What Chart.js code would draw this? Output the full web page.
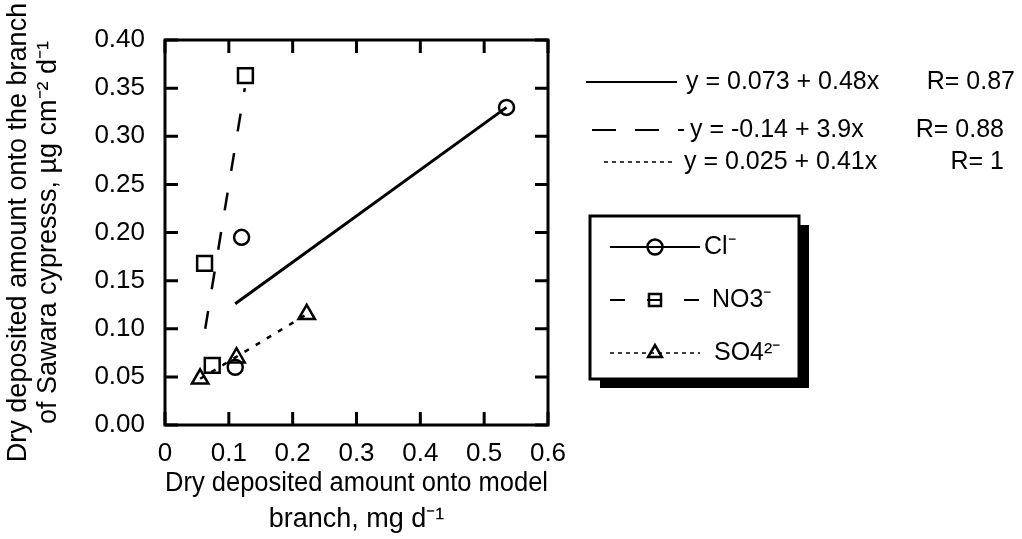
<!DOCTYPE html>
<html>
<head>
<meta charset="utf-8">
<script src="https://cdn.jsdelivr.net/npm/chart.js@4.4.1/dist/chart.umd.min.js"></script>
<style>
  html, body { margin: 0; padding: 0; background: #fff; }
  #wrap { width: 1022px; height: 539px; }
</style>
</head>
<body>
<div id="wrap"><canvas id="chart"></canvas></div>
<script>
// measured points
const clX = [0.11, 0.12, 0.535]
const clY = [0.06, 0.195, 0.33]
const no3X = [0.062, 0.074, 0.126]
const no3Y = [0.168, 0.062, 0.363]
const so4X = [0.055, 0.112, 0.222]
const so4Y = [0.048, 0.07, 0.115]

// regression lines, end points
const clFitX = [0.11, 0.535]
const clFitY = [0.126, 0.33]
const no3FitX = [0.063, 0.125]
const no3FitY = [0.1, 0.35]
const so4FitX = [0.055, 0.222]
const so4FitY = [0.048, 0.115]

const xTicks = [0, 0.1, 0.2, 0.3, 0.4, 0.5, 0.6]
const yTicks = [0, 0.05, 0.1, 0.15, 0.2, 0.25, 0.3, 0.35, 0.4]

const seriesNames = ["Cl⁻", "NO3⁻", "SO4²⁻"]
const fitEquations = ["y = 0.073 + 0.48x", "y = -0.14 + 3.9x", "y = 0.025 + 0.41x"]
const fitR = ["R= 0.87", "R= 0.88", "R= 1"]

const FONT = "'Liberation Sans', Arial, Helvetica, sans-serif"

const pts = (xs, ys) => xs.map((x, i) => ({ x: x, y: ys[i] }))

// frame with inward ticks on all four sides, equations and boxed legend
const decorations = {
  id: "decorations",
  afterDraw(chart) {
    const ctx = chart.ctx
    const a = chart.chartArea
    const x = chart.scales.x
    const y = chart.scales.y
    const t = 13
    ctx.save()
    ctx.strokeStyle = "#000"
    ctx.lineWidth = 3
    ctx.setLineDash([])
    ctx.strokeRect(a.left, a.top, a.right - a.left, a.bottom - a.top)
    ctx.beginPath()
    xTicks.forEach((v) => {
      const px = x.getPixelForValue(v)
      ctx.moveTo(px, a.bottom); ctx.lineTo(px, a.bottom - t)
      ctx.moveTo(px, a.top); ctx.lineTo(px, a.top + t)
    })
    yTicks.forEach((v) => {
      const py = y.getPixelForValue(v)
      ctx.moveTo(a.left, py); ctx.lineTo(a.left + t, py)
      ctx.moveTo(a.right, py); ctx.lineTo(a.right - t, py)
    })
    ctx.stroke()

    // regression equations
    ctx.fillStyle = "#000"
    ctx.font = "25px " + FONT
    ctx.textBaseline = "middle"
    const eqRows = [82, 130, 162]
    const eqLine = [[586, 677, []], [592, 684, [24, 19]], [604, 674, [4, 4]]]
    const eqText = [686, 690, 684]
    const rEnd = [1015, 1004, 1004]
    eqRows.forEach((ry, i) => {
      ctx.lineWidth = i === 2 ? 1.5 : 2
      ctx.setLineDash(eqLine[i][2])
      ctx.beginPath()
      ctx.moveTo(eqLine[i][0], ry); ctx.lineTo(eqLine[i][1], ry)
      ctx.stroke()
      ctx.textAlign = "left"
      ctx.fillText(fitEquations[i], eqText[i], ry)
      ctx.textAlign = "right"
      ctx.fillText(fitR[i], rEnd[i], ry)
    })
    ctx.textAlign = "left"

    // legend box with drop shadow
    ctx.setLineDash([])
    const bx = 590, by = 216, bw = 209, bh = 163
    ctx.fillStyle = "#000"
    ctx.fillRect(bx + 10, by + 9, bw, bh)
    ctx.fillStyle = "#fff"
    ctx.fillRect(bx, by, bw, bh)
    ctx.lineWidth = 3
    ctx.strokeRect(bx, by, bw, bh)

    const rows = [247, 300, 353]
    const dashes = [[], [15, 22], [4, 4]]
    const shapes = ["circle", "rect", "triangle"]
    const radii = [7.5, 8.5, 8]
    const textX = [704, 712, 714]
    rows.forEach((ry, i) => {
      ctx.strokeStyle = "#000"
      ctx.lineWidth = i === 2 ? 1.5 : 2
      ctx.setLineDash(dashes[i])
      ctx.beginPath()
      ctx.moveTo(610, ry); ctx.lineTo(700, ry)
      ctx.stroke()
      ctx.setLineDash([])
      ctx.lineWidth = 2.5
      ctx.fillStyle = "rgba(0,0,0,0)"
      Chart.helpers.drawPoint(ctx, { pointStyle: shapes[i], radius: radii[i], borderWidth: 2.5 }, 655, ry)
      ctx.fillStyle = "#000"
      ctx.font = "25px " + FONT
      ctx.fillText(seriesNames[i], textX[i], ry)
    })
    ctx.restore()
  },
}

new Chart(document.getElementById("chart"), {
  type: "scatter",
  data: {
    datasets: [
      {
        label: "Cl fit",
        data: pts(clFitX, clFitY),
        showLine: true,
        borderColor: "#000",
        borderWidth: 3,
        pointRadius: 0,
      },
      {
        label: "NO3 fit",
        data: pts(no3FitX, no3FitY),
        showLine: true,
        borderColor: "#000",
        borderWidth: 2.5,
        borderDash: [18, 22],
        pointRadius: 0,
      },
      {
        label: "SO4 fit",
        data: pts(so4FitX, so4FitY),
        showLine: true,
        borderColor: "#000",
        borderWidth: 2.5,
        borderDash: [5, 8],
        pointRadius: 0,
      },
      {
        label: "Cl",
        data: pts(clX, clY),
        pointStyle: "circle",
        pointRadius: 7.5,
        borderColor: "#000",
        backgroundColor: "rgba(0,0,0,0)",
        borderWidth: 2.5,
      },
      {
        label: "NO3",
        data: pts(no3X, no3Y),
        pointStyle: "rect",
        pointRadius: 10.5,
        borderColor: "#000",
        backgroundColor: "rgba(0,0,0,0)",
        borderWidth: 2.5,
      },
      {
        label: "SO4",
        data: pts(so4X, so4Y),
        pointStyle: "triangle",
        pointRadius: 9.5,
        borderColor: "#000",
        backgroundColor: "rgba(0,0,0,0)",
        borderWidth: 2.5,
      },
    ],
  },
  options: {
    responsive: true,
    maintainAspectRatio: false,
    animation: false,
    events: [],
    layout: { padding: { left: 0, top: 40, right: 474, bottom: 0 } },
    plugins: { legend: { display: false }, tooltip: { enabled: false } },
    scales: {
      x: {
        type: "linear",
        min: 0,
        max: 0.6,
        afterBuildTicks: (s) => { s.ticks = xTicks.map((v) => ({ value: v })) },
        afterFit: (s) => { s.height = 114 },
        grid: { display: false },
        border: { display: false },
        ticks: {
          color: "#000",
          font: { family: FONT, size: 26 },
          padding: 5,
          maxRotation: 0,
          callback: (v) => (v === 0 ? "0" : v.toFixed(1)),
        },
        title: {
          display: true,
          text: ["Dry deposited amount onto model", "branch, mg d⁻¹"],
          color: "#000",
          font: { family: FONT, size: 27, lineHeight: 1.35 },
          padding: { top: 0, bottom: 1 },
        },
      },
      y: {
        type: "linear",
        min: 0,
        max: 0.4,
        afterBuildTicks: (s) => { s.ticks = yTicks.map((v) => ({ value: v })) },
        afterFit: (s) => { s.width = 165 },
        grid: { display: false },
        border: { display: false },
        ticks: {
          color: "#000",
          font: { family: FONT, size: 26 },
          padding: 12,
          callback: (v) => v.toFixed(2),
        },
        title: {
          display: true,
          text: ["Dry deposited amount onto the branch", "of Sawara cypresss, µg cm⁻² d⁻¹"],
          color: "#000",
          font: { family: FONT, size: 27, lineHeight: 1.12 },
          padding: { top: 3, bottom: 0 },
        },
      },
    },
  },
  plugins: [decorations],
})
</script>
</body>
</html>
